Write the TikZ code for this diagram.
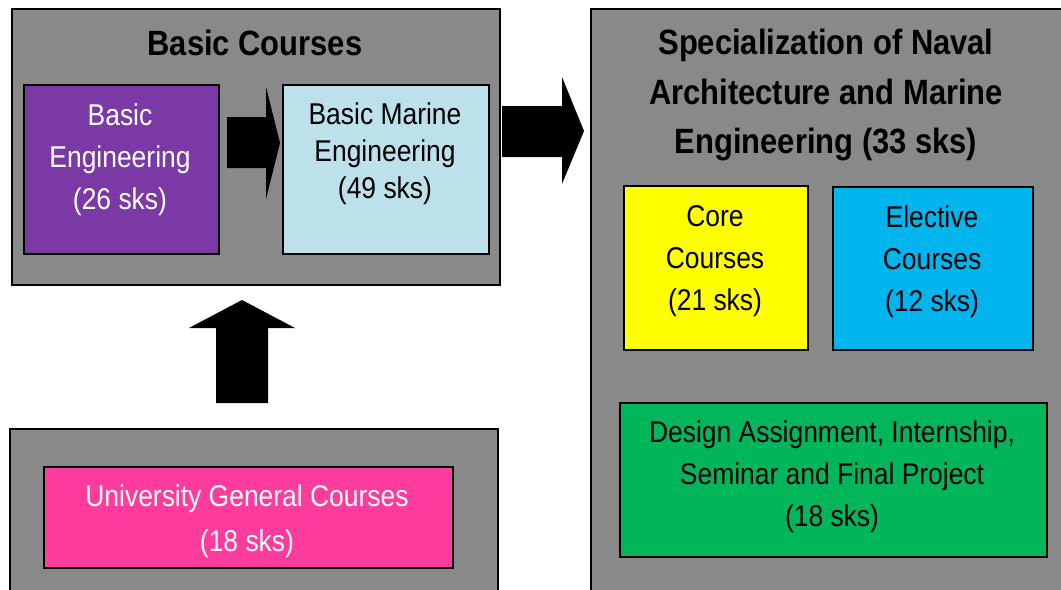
\documentclass[tikz,border=0pt]{standalone}
\usepackage{fontspec}
\setmainfont[FakeStretch=0.88]{Liberation Sans}
\usetikzlibrary{positioning}

\definecolor{panelgray}{HTML}{898989}
\definecolor{basicpurple}{HTML}{7B39A6}
\definecolor{marineblue}{HTML}{BDE1EA}
\definecolor{generalpink}{HTML}{FF3B9E}
\definecolor{coreyellow}{HTML}{FFFF00}
\definecolor{electivecyan}{HTML}{00B4EE}
\definecolor{projectgreen}{HTML}{00B55A}

\tikzset{
	panel/.style={draw=black, fill=panelgray, line width=1.1pt, rectangle, inner sep=0pt, anchor=north west},
	course/.style={draw=black, line width=1.1pt, rectangle, inner sep=0pt, anchor=north west},
	coursetext/.style={align=center, inner sep=0pt, font=\fontsize{17.1}{23.8}\selectfont},
	paneltitle/.style={align=center, inner sep=0pt, font=\fontsize{20}{28.3}\selectfont\bfseries},
	blockarrow/.style={fill=black}
}

\begin{document}
\begin{tikzpicture}[x=0.02cm, y=-0.02cm]
			%%%%% START %%%%%
			
			\clip (0, 0) rectangle (1061, 589);
			
			% panels
			\node[panel, minimum width=9.76cm, minimum height=5.52cm] (basicpanel) at (11, 8) {};
			\node[panel, minimum width=9.76cm, minimum height=4cm] (generalpanel) at (9, 428) {};
			\node[panel, minimum width=9.8cm, minimum height=12cm] (specpanel) at (590, 8) {};
			
			\node[paneltitle] (basictitle) at (255, 43) {Basic Courses};
			\node[paneltitle] (spectitle) at (826, 95) {Specialization of Naval\\Architecture and Marine\\Engineering (33 sks)};
			
			% courses
			\node[course, fill=basicpurple, minimum width=3.9cm, minimum height=3.38cm] (basiceng) at (23, 84) {};
			\node[coursetext, text=white] at (120, 160) {Basic\\Engineering\\(26 sks)};
			
			\node[course, fill=marineblue, minimum width=4.12cm, minimum height=3.38cm] (marineeng) at (282, 84) {};
			\node[coursetext, font=\fontsize{17.1}{21}\selectfont] at (385, 154) {Basic Marine\\Engineering\\(49 sks)};
			
			\node[course, fill=generalpink, minimum width=8.18cm, minimum height=2.02cm] (general) at (43, 466) {};
			\node[coursetext, text=white, font=\fontsize{17.1}{25.5}\selectfont] at (247, 521) {University General Courses\\(18 sks)};
			
			\node[course, fill=coreyellow, minimum width=3.68cm, minimum height=3.28cm] (core) at (623, 185) {};
			\node[coursetext] at (715, 261) {Core\\Courses\\(21 sks)};
			
			\node[course, fill=electivecyan, minimum width=4cm, minimum height=3.26cm] (elective) at (832, 186) {};
			\node[coursetext] at (932, 262) {Elective\\Courses\\(12 sks)};
			
			\node[course, fill=projectgreen, minimum width=8.54cm, minimum height=3.08cm] (project) at (619, 402) {};
			\node[coursetext] at (832, 477) {Design Assignment, Internship,\\Seminar and Final Project\\(18 sks)};
			
			% block arrows
			\fill[blockarrow] (227, 117) -- (266, 117) -- (266, 87) -- (280, 143) -- (266, 199) -- (266, 168) -- (227, 168) -- cycle;
			\fill[blockarrow] (502, 106) -- (562, 106) -- (562, 77) -- (584, 131) -- (562, 184) -- (562, 157) -- (502, 157) -- cycle;
			\fill[blockarrow] (216, 403) -- (216, 328) -- (189, 328) -- (242, 300) -- (295, 328) -- (268, 328) -- (268, 403) -- cycle;
			
			%%%%% END %%%%%
\end{tikzpicture}
\end{document}
